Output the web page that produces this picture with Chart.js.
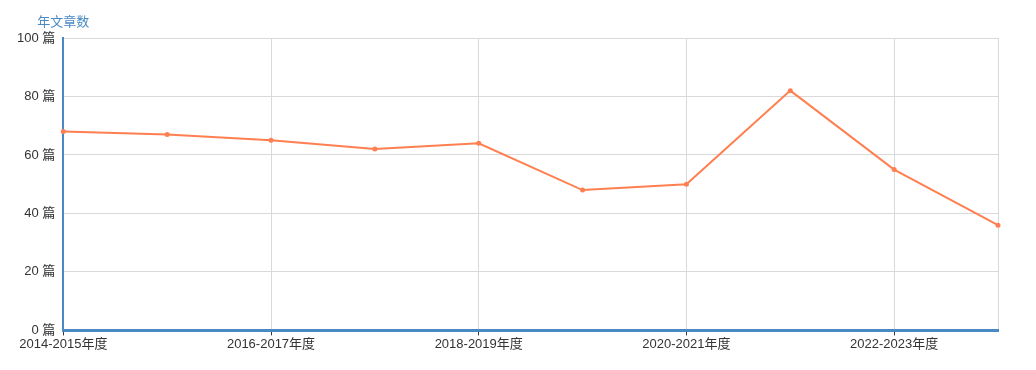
<!DOCTYPE html>
<html>
<head>
<meta charset="utf-8">
<script src="https://cdn.jsdelivr.net/npm/chart.js@4/dist/chart.umd.min.js"></script>
<style>
  body { margin: 0; background: #fff; }
  #wrap { width: 1036px; height: 370px; }
</style>
</head>
<body>
<div id="wrap"><canvas id="chart"></canvas></div>
<script>
const years = ['2014-2015年度', '2015-2016年度', '2016-2017年度', '2017-2018年度', '2018-2019年度',
    '2019-2020年度', '2020-2021年度', '2021-2022年度', '2022-2023年度', '2023-2024年度']
const articleCounts = [68, 67, 65, 62, 64, 48, 50, 82, 55, 36]
const yTicks = [0, 20, 40, 60, 80, 100]
const yUnit = ' 篇'
const yTitle = '年文章数'

const FONT = 'Liberation Sans, Arial, "Noto Sans CJK SC", sans-serif'
const AXIS_BLUE = '#4a8ac4'
const GRID = '#d9d9d9'
const LINE = '#ff7f50'

// title sits above the y axis, like the original
const axisTitle = {
    id: 'axisTitle',
    afterDraw(chart) {
        const { ctx, chartArea } = chart
        ctx.save()
        ctx.fillStyle = AXIS_BLUE
        ctx.font = '13px ' + FONT
        ctx.textAlign = 'center'
        ctx.textBaseline = 'middle'
        ctx.fillText(yTitle, chartArea.left, chartArea.top - 16)
        ctx.restore()
    }
}

const lastIdx = years.length - 1

new Chart(document.getElementById('chart'), {
    type: 'line',
    data: {
        labels: years,
        datasets: [{
            data: articleCounts,
            borderColor: LINE,
            backgroundColor: LINE,
            borderWidth: 2,
            pointRadius: 2.5,
            pointBorderWidth: 0,
            tension: 0
        }]
    },
    options: {
        responsive: true,
        maintainAspectRatio: false,
        animation: false,
        layout: { padding: { top: 38, right: 38, left: 9, bottom: 17 } },
        plugins: {
            legend: { display: false },
            tooltip: { enabled: false }
        },
        scales: {
            x: {
                offset: false,
                border: { color: AXIS_BLUE, width: 3 },
                grid: {
                    color: (c) => (c.index % 2 === 0 || c.index === lastIdx) ? GRID : 'rgba(0,0,0,0)',
                    tickColor: (c) => c.index % 2 === 0 ? '#333' : 'rgba(0,0,0,0)',
                    tickLength: 5
                },
                ticks: {
                    autoSkip: false,
                    maxRotation: 0,
                    color: '#333',
                    padding: 1,
                    font: { family: FONT, size: 13 },
                    callback: (v, i) => i % 2 === 0 ? years[i] : ''
                }
            },
            y: {
                min: yTicks[0],
                max: yTicks[yTicks.length - 1],
                border: { color: AXIS_BLUE, width: 2 },
                grid: { color: GRID, drawTicks: false },
                afterBuildTicks: (axis) => { axis.ticks = yTicks.map(v => ({ value: v })) },
                ticks: {
                    color: '#333',
                    padding: 8,
                    font: { family: FONT, size: 13 },
                    callback: (v) => v + yUnit
                }
            }
        }
    },
    plugins: [axisTitle]
})
</script>
</body>
</html>
